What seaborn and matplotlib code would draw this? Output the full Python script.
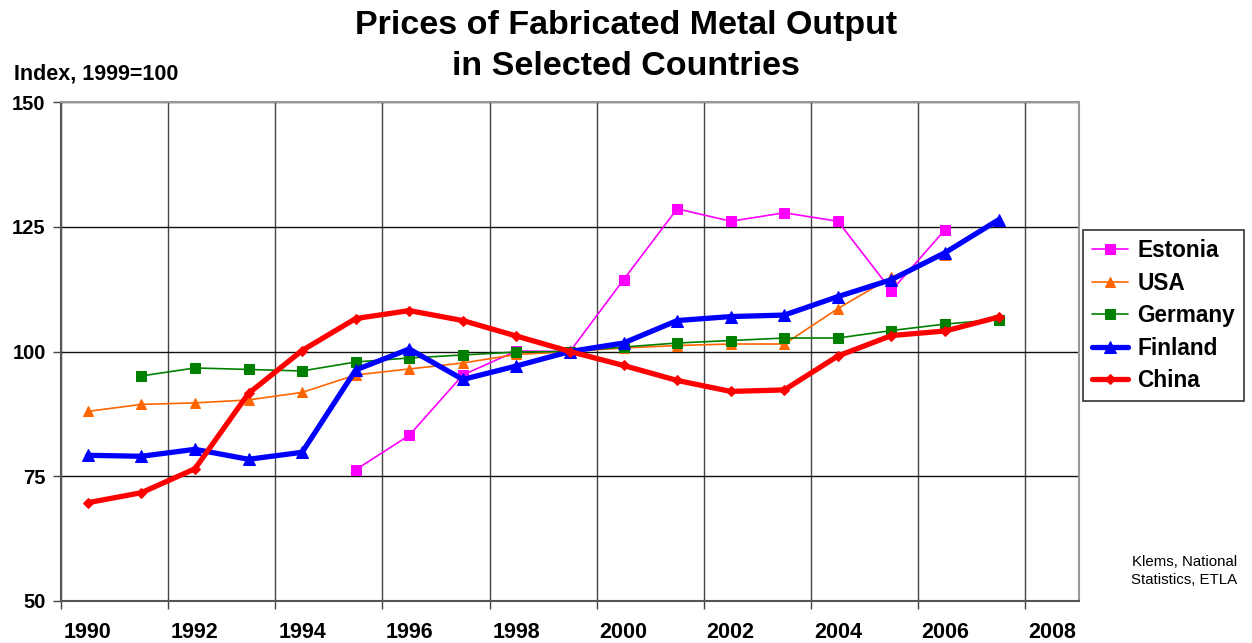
import numpy as np
import pandas as pd
import matplotlib
matplotlib.use("Agg")
import matplotlib.pyplot as plt
import seaborn as sns

# values (index, 1999=100)
years = list(range(1990, 2009))
estonia = [None, None, None, None, None, 76.3, 83.2, 95.3, 100.1, 100, 114.4, 128.6, 126.1, 127.8, 126.1, 112.2, 124.4, None, None]
usa = [88.0, 89.4, 89.7, 90.3, 91.8, 95.3, 96.5, 97.7, 99.4, 100, 100.7, 101.2, 101.5, 101.5, 108.6, 114.9, 119.4, None, None]
germany = [None, 95.1, 96.7, 96.4, 96.1, 97.9, 98.7, 99.3, 99.9, 100, 100.9, 101.7, 102.2, 102.7, 102.7, 104.2, 105.5, 106.4, None]
finland = [79.2, 79.0, 80.4, 78.4, 79.8, 96.3, 100.5, 94.4, 97.1, 100, 101.7, 106.2, 107.0, 107.3, 111.0, 114.4, 119.8, 126.4, None]
china = [69.7, 71.7, 76.5, 91.6, 100.2, 106.6, 108.2, 106.2, 103.1, 100, 97.2, 94.2, 92.0, 92.3, 99.1, 103.2, 104.1, 106.9, None]

series = {"Estonia": estonia, "USA": usa, "Germany": germany, "Finland": finland, "China": china}
colors = {"Estonia": "#FF00FF", "USA": "#FF6600", "Germany": "#008000", "Finland": "#0000FF", "China": "#FF0000"}
markers = {"Estonia": "s", "USA": "^", "Germany": "s", "Finland": "^", "China": "D"}
widths = {"Estonia": 1.2, "USA": 1.2, "Germany": 1.2, "Finland": 3.8, "China": 3.8}
msizes = {"Estonia": 7, "USA": 7.5, "Germany": 7, "Finland": 8.5, "China": 5}

sns.set_style("white")
plt.rcParams["font.family"] = ["Liberation Sans", "DejaVu Sans"]
plt.rcParams["text.color"] = "black"
plt.rcParams["xtick.color"] = "black"
plt.rcParams["ytick.color"] = "black"
plt.rcParams["xtick.labelcolor"] = "black"
plt.rcParams["ytick.labelcolor"] = "black"

fig = plt.figure(figsize=(12.52, 6.43), dpi=100)
ax = fig.add_axes([61 / 1252, 1 - 601 / 643, (1079 - 61) / 1252, (601 - 102) / 643])

for name, vals in series.items():
    df = pd.DataFrame({"year": years, "value": vals}).dropna()
    sns.lineplot(data=df, x="year", y="value", ax=ax, color=colors[name],
                 marker=markers[name], markersize=msizes[name], markeredgecolor=colors[name],
                 linewidth=widths[name], label=name, legend=False, zorder=3)

ax.set_xlim(1989.5, 2008.5)
ax.set_ylim(50, 150)
ax.set_yticks([50, 75, 100, 125, 150])
ax.set_xticks(years[::2])
ax.set_xticks(np.arange(1989.5, 2008.5, 2), minor=True)
ax.set_xlabel("")
ax.set_ylabel("")

ax.grid(False)
ax.grid(True, which="minor", axis="x", color="#444444", lw=1.0)
ax.grid(True, which="major", axis="y", color="#111111", lw=1.0)

ax.tick_params(axis="x", which="major", length=0, pad=15, labelsize=15.5)
ax.tick_params(axis="x", which="minor", length=6, width=1, color="#444444", direction="out", bottom=True)
ax.tick_params(axis="y", length=6, width=1, color="#444444", direction="out", left=True, pad=5, labelsize=14.5)
for lab in ax.get_xticklabels() + ax.get_yticklabels():
    lab.set_fontweight("bold")

for side in ["left", "bottom"]:
    ax.spines[side].set_color("#555555")
    ax.spines[side].set_linewidth(1.5)
for side in ["top", "right"]:
    ax.spines[side].set_color("#999999")
    ax.spines[side].set_linewidth(1.5)

fig.text(0.5, 1 - 46 / 643, "Prices of Fabricated Metal Output\nin Selected Countries",
         ha="center", va="center", fontsize=24.5, fontweight="bold", linespacing=1.42)
fig.text(14 / 1252, 1 - 74 / 643, "Index, 1999=100", ha="left", va="center",
         fontsize=15.5, fontweight="bold")
fig.text(1237 / 1252, 1 - 571 / 643, "Klems, National\nStatistics, ETLA", ha="right", va="center",
         fontsize=10.8, multialignment="right", linespacing=1.3)

handles, labels = ax.get_legend_handles_labels()
leg = fig.legend(handles, labels, loc="upper left", bbox_to_anchor=(1083 / 1252, 1 - 230 / 643),
                 bbox_transform=fig.transFigure, frameon=True, fancybox=False, framealpha=1,
                 edgecolor="#333333", prop={"weight": "bold", "size": 16.3},
                 handlelength=1.6, labelspacing=0.42, borderpad=0.4, handletextpad=0.4,
                 borderaxespad=0)
leg.get_frame().set_linewidth(1.2)

fig.savefig("out.png", dpi=100)
